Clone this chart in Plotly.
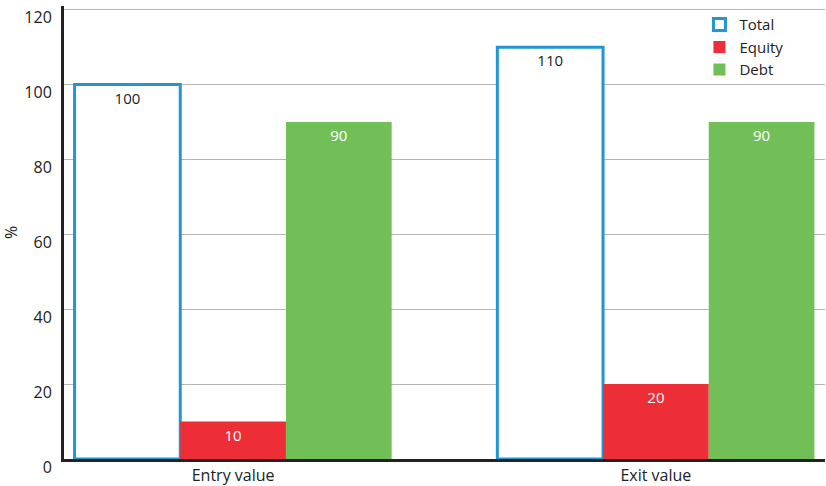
import plotly.graph_objects as go

categories = ["Entry value", "Exit value"]
total = [100, 110]
equity = [10, 20]
debt = [90, 90]

FONT = "Open Sans"

fig = go.Figure()
fig.add_trace(go.Bar(
    name="Total", x=categories, y=total,
    marker=dict(color="white", line=dict(color="#2196d3", width=3)),
    text=[str(v) for v in total], textposition="inside", insidetextanchor="end",
    textfont=dict(color="#222222", size=15, family=FONT),
))
fig.add_trace(go.Bar(
    name="Equity", x=categories, y=equity,
    marker=dict(color="#ee2e36", line=dict(width=0)),
    text=[str(v) for v in equity], textposition="inside", insidetextanchor="end",
    textfont=dict(color="white", size=15, family=FONT),
))
fig.add_trace(go.Bar(
    name="Debt", x=categories, y=debt,
    marker=dict(color="#72bf58", line=dict(width=0)),
    text=[str(v) for v in debt], textposition="inside", insidetextanchor="end",
    textfont=dict(color="white", size=15, family=FONT),
))

fig.update_layout(
    width=826, height=486,
    margin=dict(l=64, r=1, t=6, b=27, autoexpand=False),
    barmode="group", bargap=0.25, bargroupgap=0,
    plot_bgcolor="white", paper_bgcolor="white",
    font=dict(family=FONT, size=16, color="#222222"),
    legend=dict(x=0.835, y=0.995, xanchor="left", yanchor="top",
                bgcolor="rgba(0,0,0,0)", font=dict(size=15),
                tracegroupgap=0),
    showlegend=True,
)
fig.update_xaxes(
    range=[-0.4, 1.4], showgrid=False, showline=True, linecolor="#222222", linewidth=3,
    ticks="", tickfont=dict(size=16, family=FONT), automargin=False,
)
fig.update_yaxes(
    range=[0, 121], tickvals=[0, 20, 40, 60, 80, 100, 120], showgrid=True,
    gridcolor="#b5b5b5", gridwidth=1, ticklabeloverflow="allow",
    ticklabelshift=8, ticklabelstandoff=6,
    showline=True, linecolor="#222222", linewidth=3, zeroline=False,
    title=dict(text="%", standoff=6, font=dict(size=16)),
    tickfont=dict(size=16, family=FONT), ticks="", automargin=False,
)

fig.write_html("out.html", post_script="document.body.style.margin='0px';",
               config={"displayModeBar": False})
